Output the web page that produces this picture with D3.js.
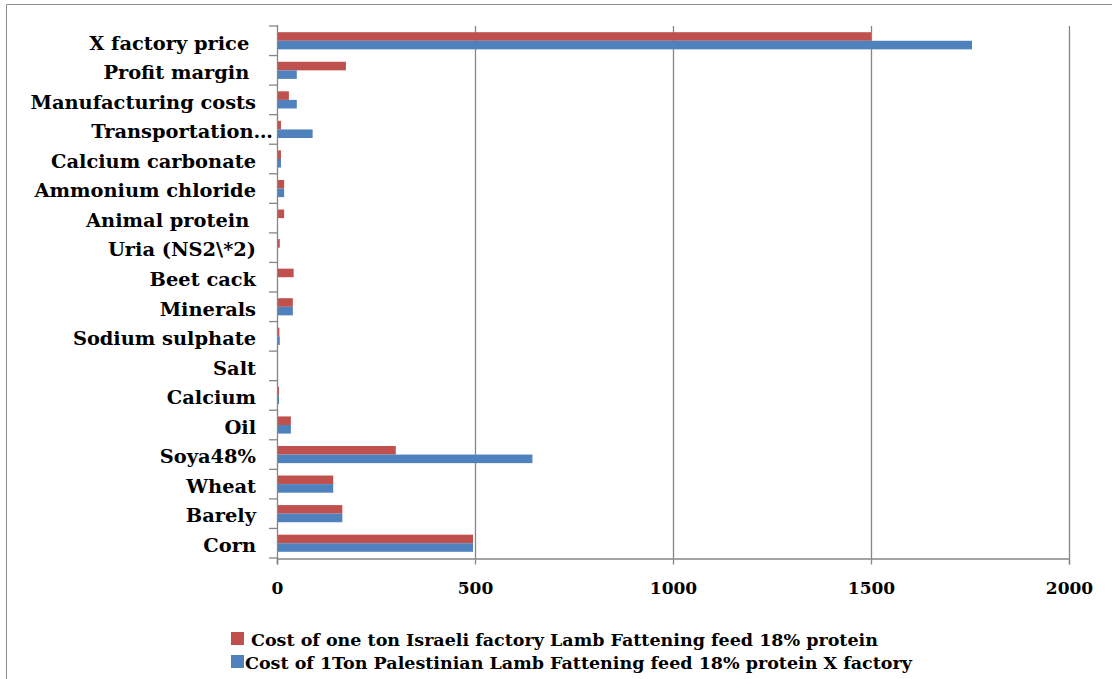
<!DOCTYPE html>
<html>
<head>
<meta charset="utf-8">
<script src="https://cdn.jsdelivr.net/npm/d3@7"></script>
<style>
  html, body { margin: 0; padding: 0; background: #fff; }
  svg text { font-family: "DejaVu Serif", "Liberation Serif", serif; font-weight: bold; fill: #000; }
</style>
</head>
<body>
<svg id="chart" width="1112" height="679"></svg>
<script>
// Cost items, listed bottom to top as they appear on the vertical axis
const categories = [
  "Corn", "Barely", "Wheat", "Soya48%", "Oil", "Calcium", "Salt",
  "Sodium sulphate", "Minerals", "Beet cack", "Uria (NS2\\*2)",
  "Animal protein ", "Ammonium chloride", "Calcium carbonate",
  "Transportation…", "Manufacturing costs", "Profit margin ", "X factory price "
];
// Cost of one ton Israeli factory Lamb Fattening feed 18% protein
const israeliCost = [495, 165, 142, 300, 35, 5, 1, 6, 40, 42, 7, 18, 18, 10, 10, 30, 174, 1500];
// Cost of 1 ton Palestinian Lamb Fattening feed 18% protein X factory
const palestinianCost = [495, 165, 142, 645, 35, 5, 1, 7, 40, 0, 0, 0, 18, 10, 90, 50, 50, 1755];
const xTicks = [0, 500, 1000, 1500, 2000];

const seriesNames = [
  "Cost of one ton Israeli factory Lamb Fattening feed 18% protein",
  "Cost of 1Ton Palestinian Lamb Fattening feed 18% protein X factory"
];
const seriesColors = ["#C0504D", "#4F81BD"];
const seriesValues = [israeliCost, palestinianCost];

const svg = d3.select("#chart");
const axisColor = "#868686";

// Outer chart frame
svg.append("path")
  .attr("d", "M6.5,679 V4.5 H1112")
  .attr("fill", "none").attr("stroke", "#8c8c8c").attr("stroke-width", 1);

const plot = { left: 277, right: 1069, top: 26, bottom: 558 };

const x = d3.scaleLinear().domain([0, 2000]).range([plot.left, plot.right]);
const y = d3.scaleBand().domain(categories.slice().reverse())
  .range([plot.top, plot.bottom]).paddingInner(0.42).paddingOuter(0.21);
const ySub = d3.scaleBand().domain([0, 1]).range([0, y.bandwidth()]);

// Vertical gridlines
svg.append("g").selectAll("line")
  .data(xTicks.filter(d => d > 0))
  .join("line")
  .attr("x1", d => Math.round(x(d)) + 0.5).attr("x2", d => Math.round(x(d)) + 0.5)
  .attr("y1", plot.top).attr("y2", plot.bottom)
  .attr("stroke", axisColor).attr("stroke-width", 1.3);

// Bars: one group per category, Israeli bar above Palestinian bar
const groups = svg.append("g").selectAll("g")
  .data(categories)
  .join("g")
  .attr("transform", d => `translate(0,${y(d)})`);

groups.selectAll("rect")
  .data((d, i) => seriesValues.map((vals, s) => ({ s, v: vals[i] })))
  .join("rect")
  .attr("x", x(0))
  .attr("y", d => ySub(d.s))
  .attr("width", d => x(d.v) - x(0))
  .attr("height", ySub.bandwidth())
  .attr("fill", d => seriesColors[d.s]);

// Horizontal (value) axis
const xAxis = svg.append("g")
  .attr("transform", `translate(0,${plot.bottom + 0.5})`)
  .call(d3.axisBottom(x).tickValues(xTicks).tickSize(6).tickPadding(17).tickFormat(d3.format("d")));
xAxis.select(".domain").attr("stroke", axisColor).attr("stroke-width", 1.3);
xAxis.selectAll(".tick line").attr("stroke", axisColor).attr("stroke-width", 1.3);
xAxis.selectAll("text").style("font-size", "17px").style("font-family", "DejaVu Serif").style("font-weight", "bold").attr("fill", "#000");

// Vertical (category) axis: line plus ticks at band boundaries
const yAxisG = svg.append("g");
yAxisG.append("line")
  .attr("x1", plot.left + 0.5).attr("x2", plot.left + 0.5)
  .attr("y1", plot.top - 1).attr("y2", plot.bottom + 6)
  .attr("stroke", axisColor).attr("stroke-width", 1.3);
const step = y.step();
yAxisG.selectAll("line.tick")
  .data(d3.range(categories.length + 1))
  .join("line").attr("class", "tick")
  .attr("x1", plot.left - 8).attr("x2", plot.left)
  .attr("y1", i => plot.top + i * step).attr("y2", i => plot.top + i * step)
  .attr("stroke", axisColor).attr("stroke-width", 1.3);

// Category labels
svg.append("g").selectAll("text")
  .data(categories)
  .join("text")
  .attr("x", d => d.endsWith("…") ? 273 : 256)
  .attr("y", d => y(d) + y.bandwidth() / 2)
  .attr("dy", "0.45em")
  .attr("text-anchor", "end")
  .style("white-space", "pre")
  .style("font-size", "19.4px")
  .text(d => d);

// Legend
const legend = svg.append("g").selectAll("g")
  .data(seriesNames)
  .join("g")
  .attr("transform", (d, i) => `translate(231,${632 + i * 23})`);
legend.append("rect")
  .attr("width", 13).attr("height", 13)
  .attr("fill", (d, i) => seriesColors[i]);
legend.append("text")
  .attr("x", (d, i) => i === 0 ? 20 : 14)
  .attr("y", 7).attr("dy", "0.4em")
  .style("font-size", "17.5px")
  .text(d => d);
</script>
</body>
</html>
